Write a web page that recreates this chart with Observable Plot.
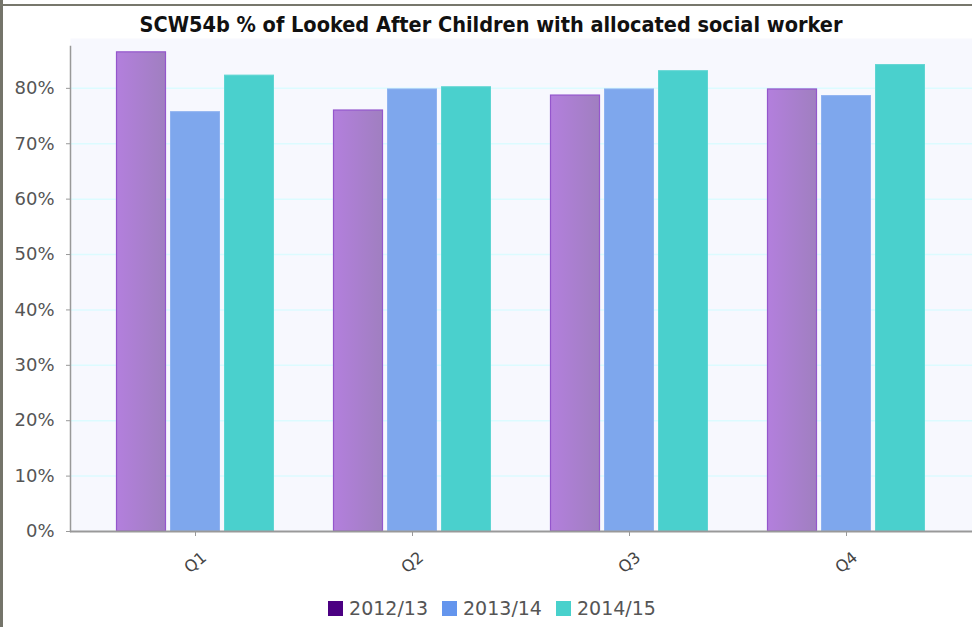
<!DOCTYPE html>
<html>
<head>
<meta charset="utf-8">
<script src="https://cdn.jsdelivr.net/npm/d3@7"></script>
<script src="https://cdn.jsdelivr.net/npm/@observablehq/plot@0.6"></script>
<style>
  html, body { margin: 0; padding: 0; background: #fff; }
  #page { position: relative; width: 972px; height: 627px; overflow: hidden; background: #fff; }
  #edge-left { position: absolute; left: 0; top: 0; width: 3px; height: 627px; background: #74746a; }
  #edge-top { position: absolute; left: 0; top: 4px; width: 972px; height: 2px; background: #77776c; }
  #title { position: absolute; left: 0; top: 12px; width: 982px; text-align: center;
           font-family: "Liberation Sans Narrow", "DejaVu Sans Condensed", "DejaVu Sans", sans-serif;
           font-weight: bold; font-size: 21.5px; color: #111; white-space: nowrap; }
  #chart { position: absolute; left: 0; top: 38px; }
  #legend { position: absolute; left: 0; top: 597px; width: 972px; display: flex; justify-content: center;
            padding-left: 12px; box-sizing: border-box;
            font-family: "DejaVu Sans", sans-serif; font-size: 19px; color: #555; }
  .item { display: flex; align-items: center; margin: 0 7px; }
  .swatch { width: 15px; height: 15px; margin-right: 6px; box-sizing: border-box; }
</style>
</head>
<body>
<div id="page">
  <div id="edge-left"></div>
  <div id="edge-top"></div>
  <div id="title">SCW54b % of Looked After Children with allocated social worker</div>
  <div id="chart"></div>
  <div id="legend"></div>
</div>
<script>
// Quarters and the three reporting years
const quarters = ["Q1", "Q2", "Q3", "Q4"];
const years = ["2012/13", "2013/14", "2014/15"];

// Percentage of looked after children with an allocated social worker
const values2012 = [86.5, 76.0, 78.7, 79.8];
const values2013 = [75.7, 79.8, 79.8, 78.6];
const values2014 = [82.3, 80.2, 83.1, 84.2];

// Y axis ticks
const yTicks = [0, 10, 20, 30, 40, 50, 60, 70, 80];

const legendColors = ["#4b0082", "#6495ed", "#48d1cc"];

const rows = (vals) => quarters.map((q, i) => ({quarter: q, value: vals[i]}));

// Soft horizontal gradient used on the first series
const gradientDefs = () => {
  const defs = d3.create("svg:defs");
  const g = defs.append("linearGradient").attr("id", "purpleFill").attr("x1", "0").attr("x2", "1").attr("y1", "0").attr("y2", "0");
  g.append("stop").attr("offset", "0%").attr("stop-color", "#b37fdd");
  g.append("stop").attr("offset", "100%").attr("stop-color", "#a07fc0");
  return defs.node();
};

const barW = 51, gap = 3;

const chart = Plot.plot({
  width: 972,
  height: 555,
  marginLeft: 70,
  marginRight: 0,
  marginTop: 0,
  marginBottom: 62,
  style: {background: "transparent", fontFamily: "DejaVu Sans, sans-serif", color: "#555", overflow: "visible"},
  x: {domain: quarters, paddingInner: 0.27, paddingOuter: 0.21, align: 0.5, label: null},
  y: {domain: [0, 89], label: null},
  marks: [
    gradientDefs,
    Plot.frame({fill: "#f7f8fe", stroke: null}),
    Plot.gridY(yTicks.filter(d => d > 0), {stroke: "#dcfbff", strokeOpacity: 1, strokeWidth: 1.5}),
    Plot.barY(rows(values2012), {x: "quarter", y: "value", fill: "url(#purpleFill)", stroke: "#9456cc", strokeWidth: 1.2,
      insetLeft: 0.5, insetRight: 2 * (barW + gap) + 0.5}),
    Plot.barY(rows(values2013), {x: "quarter", y: "value", fill: "#7ea7ed", stroke: "#8fb2f0", strokeWidth: 1,
      insetLeft: barW + gap + 0.5, insetRight: barW + gap + 0.5}),
    Plot.barY(rows(values2014), {x: "quarter", y: "value", fill: "#4ad0cd", stroke: "#5fd5d2", strokeWidth: 1,
      insetLeft: 2 * (barW + gap) + 0.5, insetRight: 0.5}),
    Plot.frame({anchor: "left", insetTop: 8, stroke: "#999", strokeWidth: 1.5}),
    Plot.ruleY([0], {stroke: "#999", strokeWidth: 2}),
    Plot.axisY({ticks: yTicks, tickFormat: d => d + "%", tickSize: 4, tickPadding: 12, fontSize: 18, stroke: "#999", label: null}),
    // tick marks under each quarter
    Plot.axisX({tickSize: 5, tickFormat: () => "", stroke: "#999", label: null}),
    // rotated quarter labels
    Plot.axisX({tickSize: 0, tickPadding: 12, tickRotate: -40, textAnchor: "middle", fontSize: 16, dy: 19, color: "#444", label: null})
  ]
});
document.getElementById("chart").appendChild(chart);

// Legend
const legend = document.getElementById("legend");
years.forEach((y, i) => {
  const item = document.createElement("div");
  item.className = "item";
  const sw = document.createElement("div");
  sw.className = "swatch";
  sw.style.background = legendColors[i];
  const label = document.createElement("span");
  label.textContent = y;
  item.appendChild(sw);
  item.appendChild(label);
  legend.appendChild(item);
});
</script>
</body>
</html>
